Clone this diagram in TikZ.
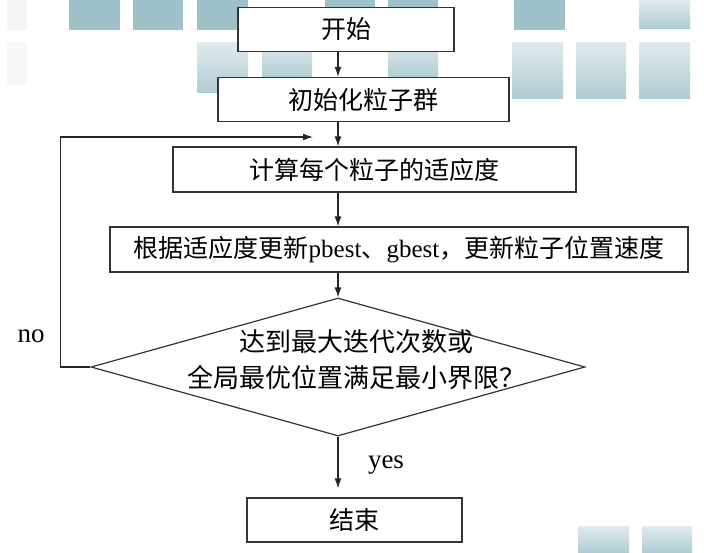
\documentclass[tikz,border=0pt]{standalone}
\usepackage{fontspec}
\setmainfont{Liberation Serif}
\newfontfamily\cjk{Noto Sans CJK SC}
\usepackage{tikz}
\usetikzlibrary{arrows.meta, calc, positioning, shapes.geometric}

\definecolor{tilecol}{RGB}{158,192,200}
\definecolor{tilepale}{RGB}{224,235,238}
\definecolor{tiledeep}{RGB}{176,204,211}

\begin{document}
\begin{tikzpicture}[x=1pt, y=-1pt,
    box/.style={draw=black!80, fill=white, line width=1.2pt, minimum height=44pt, inner sep=0pt, font=\cjk\fontsize{25}{30}\selectfont},
    flow/.style={-{Latex[length=10pt, width=7pt]}, draw=black!85, line width=1.2pt},
    tile/.style={fill=tilecol},
    fadetile/.style={top color=tilepale, bottom color=tiledeep},
    word/.style={font=\fontsize{27}{30}\selectfont}]
    \useasboundingbox (0,0) rectangle (704,552);

    % Background tiles
    \fill[black!4] (7,0) rectangle (27,30);
    \fill[black!3] (7,42) rectangle (27,85);
    \fill[tile] (69,0) rectangle (120,30);
    \fill[tile] (133,0) rectangle (183,30);
    \fill[tile] (197,0) rectangle (248,30);
    \fill[tile] (325,0) rectangle (375,30);
    \fill[tile] (388,0) rectangle (438,30);
    \fill[tile] (514,0) rectangle (565,30);
    \fill[fadetile] (639,0) rectangle (690,28);
    \fill[fadetile] (197,42) rectangle (248,92);
    \fill[fadetile] (262,42) rectangle (312,78);
    \fill[fadetile] (388,40) rectangle (438,78);
    \fill[fadetile] (512,42) rectangle (563,98);
    \fill[fadetile] (576,42) rectangle (626,98);
    \fill[fadetile] (639,42) rectangle (690,98);
    \fill[fadetile] (578,526) rectangle (629,552);
    \fill[fadetile] (642,526) rectangle (692,552);

    % Steps
    \node[box, minimum width=216pt] (start) at (346,29.5) {开始};
    \node[box, minimum width=291pt] (init) at (363.5,99.5) {初始化粒子群};
    \node[box, minimum width=403pt, minimum height=45pt] (fit) at (374.5,169.5) {计算每个粒子的适应度};
    \node[box, minimum width=578pt, minimum height=45pt] (update) at (399,249.5)
        {根据适应度更新{\rmfamily pbest}、{\rmfamily gbest}，更新粒子位置速度};
    \node[diamond, draw=black!80, line width=1.2pt, inner sep=0pt, minimum width=494pt, minimum height=138pt] (check) at (338,367) {};
    \node[font=\cjk\fontsize{26}{36}\selectfont, align=center] (checktxt) at (356,360)
        {达到最大迭代次数或\\全局最优位置满足最小界限？};
    \node[box, minimum width=215pt] (stop) at (354.5,520) {结束};

    % Labels
    \node[word] (nolbl) at (31,336) {no};
    \node[word] (yeslbl) at (386,465) {yes};

    % Connectors
    \draw[flow] (start.south -| check.north) -- (init.north -| check.north);
    \draw[flow] (init.south -| check.north) -- (fit.north -| check.north);
    \draw[flow] (fit.south -| check.north) -- (update.north -| check.north);
    \draw[flow] (update.south -| check.north) -- (check.north);
    \draw[flow, shorten >=9pt] (check.south) -- (stop.north -| check.south);
    \coordinate (back) at (313,137);
    \draw[flow] (check.west) -- ++(-30,0) |- (back);
\end{tikzpicture}
\end{document}
